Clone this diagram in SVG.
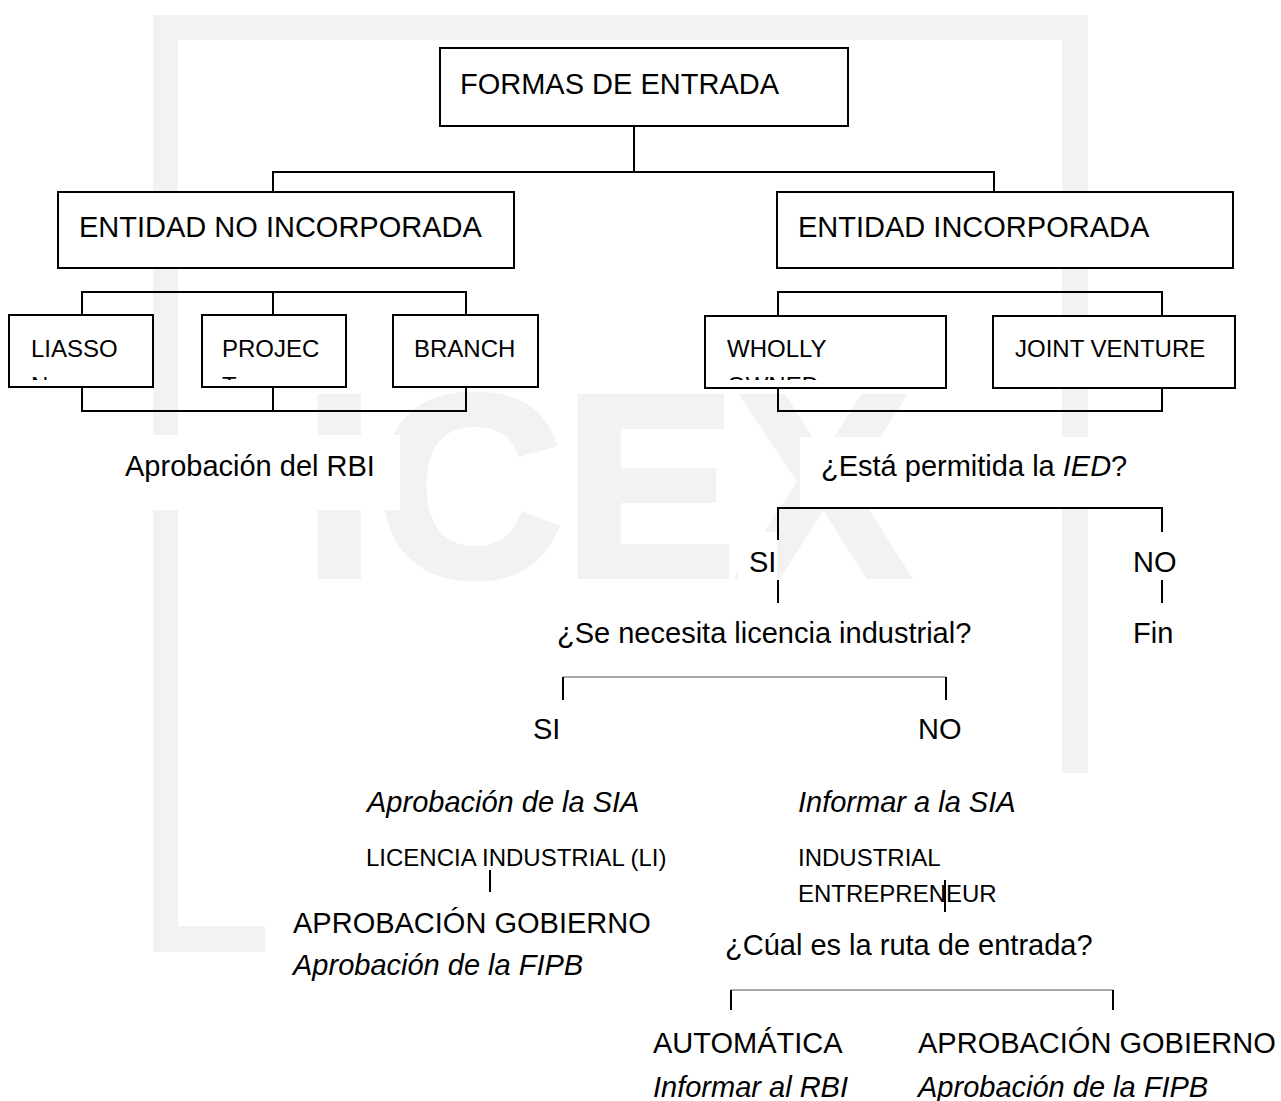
<svg xmlns="http://www.w3.org/2000/svg" width="1281" height="1101" viewBox="0 0 1281 1101">
<style>
text{font-family:"Liberation Sans",Arial,sans-serif;fill:#000}
.t{font-size:29px}
.s{font-size:24px}
.i{font-style:italic}
.box{fill:#fff;stroke:#000;stroke-width:2}
.ln{stroke:#000;stroke-width:2;fill:none}
.gl{stroke:#8c8c8c;stroke-width:1.5;fill:none}
.wm{fill:#f3f1f1}
.wb{fill:#fff}
</style>
<defs>
<clipPath id="cut"><rect x="0" y="370" width="1281" height="10"/></clipPath>
</defs>
<g id="watermark">
<rect class="wm" x="153" y="15" width="935" height="25"/>
<rect class="wm" x="153" y="15" width="25" height="937"/>
<rect class="wm" x="153" y="926" width="112" height="26"/>
<rect class="wm" x="1062" y="15" width="26" height="758"/>
<text x="303" y="576" style="font-size:260px;font-weight:bold;fill:#f3f1f1;stroke:#f3f1f1;stroke-width:6">ICEX</text>
<rect class="wb" x="100" y="435" width="300" height="75"/>
<rect class="wb" x="800" y="437" width="300" height="70"/>
<rect class="wb" x="738" y="532" width="39" height="68"/>
</g>
<g id="connectors">
<path class="ln" d="M634 126V172M273 192V172H994V192"/>
<path class="ln" d="M82 315V292H466V315M273 292V315M82 387V411H466V387M273 387V411"/>
<path class="ln" d="M778 315V292H1162V315M778 388V411H1162V388"/>
<path class="ln" d="M778 540V508H1162V532M778 580V603M1162 580V603"/>
<path class="gl" d="M563 677H946"/>
<path class="ln" d="M563 677V700M946 677V700"/>
<path class="ln" d="M490 870V892M945 880V912"/>
<path class="gl" d="M731 990H1113"/>
<path class="ln" d="M731 990V1010M1113 990V1010"/>
</g>
<g id="n-formas"><rect class="box" x="440" y="48" width="408" height="78"/><text class="t" x="460" y="94">FORMAS DE ENTRADA</text></g>
<g id="n-noinc"><rect class="box" x="58" y="192" width="456" height="76"/><text class="t" x="79" y="237">ENTIDAD NO INCORPORADA</text></g>
<g id="n-inc"><rect class="box" x="777" y="192" width="456" height="76"/><text class="t" x="798" y="237">ENTIDAD INCORPORADA</text></g>
<g id="n-liasson"><rect class="box" x="9" y="315" width="144" height="72"/><text class="s" x="31" y="357">LIASSO</text><text class="s" x="31" y="394" clip-path="url(#cut)">N</text></g>
<g id="n-project"><rect class="box" x="202" y="315" width="144" height="72"/><text class="s" x="222" y="357">PROJEC</text><text class="s" x="222" y="394" clip-path="url(#cut)">T</text></g>
<g id="n-branch"><rect class="box" x="393" y="315" width="145" height="72"/><text class="s" x="414" y="357">BRANCH</text></g>
<g id="n-wholly"><rect class="box" x="705" y="316" width="241" height="72"/><text class="s" x="727" y="357">WHOLLY</text><text class="s" x="727" y="394" clip-path="url(#cut)">OWNED</text></g>
<g id="n-joint"><rect class="box" x="993" y="316" width="242" height="72"/><text class="s" x="1015" y="357">JOINT VENTURE</text></g>
<g id="n-rbi"><text class="t" x="125" y="476">Aprobación del RBI</text></g>
<g id="n-ied"><text class="t" x="821" y="476">¿Está permitida la <tspan class="i">IED</tspan>?</text></g>
<g id="n-si1"><text class="t" x="749" y="572">SI</text></g>
<g id="n-no1"><text class="t" x="1133" y="572">NO</text></g>
<g id="n-lic"><text class="t" x="557" y="643">¿Se necesita licencia industrial?</text></g>
<g id="n-fin"><text class="t" x="1133" y="643">Fin</text></g>
<g id="n-si2"><text class="t" x="533" y="739">SI</text></g>
<g id="n-no2"><text class="t" x="918" y="739">NO</text></g>
<g id="n-sia1"><text class="t i" x="367" y="812">Aprobación de la SIA</text></g>
<g id="n-sia2"><text class="t i" x="798" y="812">Informar a la SIA</text></g>
<g id="n-li"><text class="s" x="366" y="866">LICENCIA INDUSTRIAL (LI)</text></g>
<g id="n-ie"><text class="s" x="798" y="866">INDUSTRIAL</text><text class="s" x="798" y="902">ENTREPRENEUR</text></g>
<g id="n-gob1"><text class="t" x="293" y="933">APROBACIÓN GOBIERNO</text><text class="t i" x="293" y="975">Aprobación de la FIPB</text></g>
<g id="n-ruta"><text class="t" x="725" y="955">¿Cúal es la ruta de entrada?</text></g>
<g id="n-auto"><text class="t" x="653" y="1053">AUTOMÁTICA</text><text class="t i" x="653" y="1097">Informar al RBI</text></g>
<g id="n-gob2"><text class="t" x="918" y="1053">APROBACIÓN GOBIERNO</text><text class="t i" x="918" y="1097">Aprobación de la FIPB</text></g>
</svg>
